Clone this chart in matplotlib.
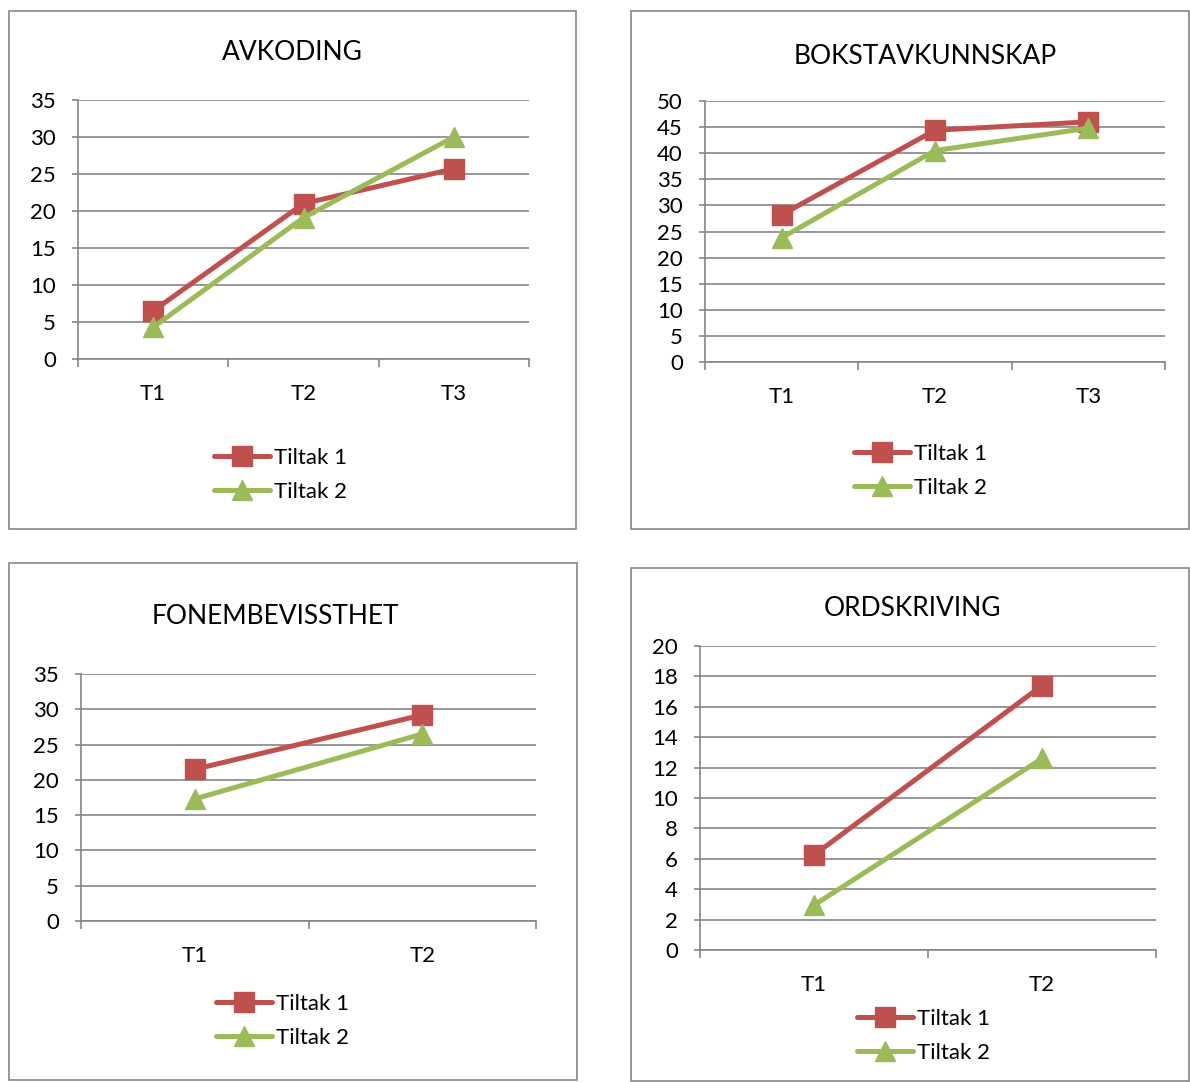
import numpy as np
import matplotlib
matplotlib.use("Agg")
import matplotlib.pyplot as plt
from matplotlib.patches import Rectangle

plt.rcParams['font.family'] = ['Lato', 'DejaVu Sans']

W, H = 1190, 1082
RED = "#C0504D"
GREEN = "#9BBB59"
GRID = "#868686"

# data
avkoding_cat = ["T1", "T2", "T3"]
avkoding_t1 = [6.5, 21.0, 25.7]
avkoding_t2 = [4.3, 19.1, 30.0]

bokstav_cat = ["T1", "T2", "T3"]
bokstav_t1 = [28.2, 44.4, 46.0]
bokstav_t2 = [23.8, 40.5, 44.8]

fonem_cat = ["T1", "T2"]
fonem_t1 = [21.5, 29.2]
fonem_t2 = [17.3, 26.5]

ord_cat = ["T1", "T2"]
ord_t1 = [6.25, 17.4]
ord_t2 = [2.95, 12.6]

series_names = ["Tiltak 1", "Tiltak 2"]


def fx(px):
    return px / W


def fy(py):
    return 1 - py / H


def add_box(fig, x0, y0, x1, y1):
    fig.patches.append(Rectangle((fx(x0), fy(y1)), fx(x1 - x0), (y1 - y0) / H,
                                 transform=fig.transFigure, fill=False,
                                 edgecolor=GRID, linewidth=1.2))


def chart(fig, box, plot, title, title_xy, cats, s1, s2, ymax, ystep, leg_xy):
    add_box(fig, *box)
    x0, y0, x1, y1 = plot
    ax = fig.add_axes([fx(x0), fy(y1), fx(x1 - x0), (y1 - y0) / H])
    n = len(cats)
    xs = np.arange(n) + 0.5
    l1, = ax.plot(xs, s1, color=RED, lw=3.6, marker="s", ms=14,
                  solid_capstyle="round", label=series_names[0], zorder=3)
    l2, = ax.plot(xs, s2, color=GREEN, lw=3.6, marker="^", ms=15,
                  solid_capstyle="round", label=series_names[1], zorder=3)
    ax.set_xlim(0, n)
    ax.set_ylim(0, ymax)
    ax.set_yticks(np.arange(0, ymax + ystep / 2, ystep))
    ax.set_xticks(np.arange(n + 1))
    ax.set_xticklabels([])
    ax.set_xticks(xs, minor=True)
    ax.set_xticklabels(cats, minor=True)
    ax.tick_params(axis="x", which="major", length=6, width=1.2, color=GRID, direction="out")
    ax.tick_params(axis="x", which="minor", length=0, pad=18, labelsize=16)
    ax.tick_params(axis="y", length=4, width=1.2, color=GRID, pad=12, labelsize=16)
    ax.grid(axis="y", color=GRID, lw=1.2)
    ax.set_axisbelow(True)
    for s in ["top", "right"]:
        ax.spines[s].set_visible(False)
    for s in ["left", "bottom"]:
        ax.spines[s].set_color(GRID)
        ax.spines[s].set_linewidth(1.2)
    fig.text(fx(title_xy[0]), fy(title_xy[1]), title, ha="center", va="center", fontsize=19)
    ax.legend(handles=[l1, l2], loc="upper left", frameon=False, fontsize=16,
              bbox_to_anchor=(fx(leg_xy[0]), fy(leg_xy[1])),
              bbox_transform=fig.transFigure, handlelength=2.5, handletextpad=0.2,
              labelspacing=0.64, borderpad=0, borderaxespad=0)
    return ax


fig = plt.figure(figsize=(W / 100, H / 100), dpi=100)

chart(fig, (9, 11, 576, 529), (78, 100, 529, 359), "AVKODING", (292, 52),
      avkoding_cat, avkoding_t1, avkoding_t2, 35, 5, (214, 448))
chart(fig, (631, 11, 1189, 529), (705, 101, 1165, 362), "BOKSTAVKUNNSKAP", (925, 56),
      bokstav_cat, bokstav_t1, bokstav_t2, 50, 5, (854, 444))
chart(fig, (9, 563, 577, 1080), (81, 674, 536, 921), "FONEMBEVISSTHET", (275, 617),
      fonem_cat, fonem_t1, fonem_t2, 35, 5, (216, 994))
chart(fig, (631, 568, 1189, 1081), (700, 646, 1156, 950), "ORDSKRIVING", (912, 608),
      ord_cat, ord_t1, ord_t2, 20, 2, (857, 1009))

fig.savefig("out.png", dpi=100)
